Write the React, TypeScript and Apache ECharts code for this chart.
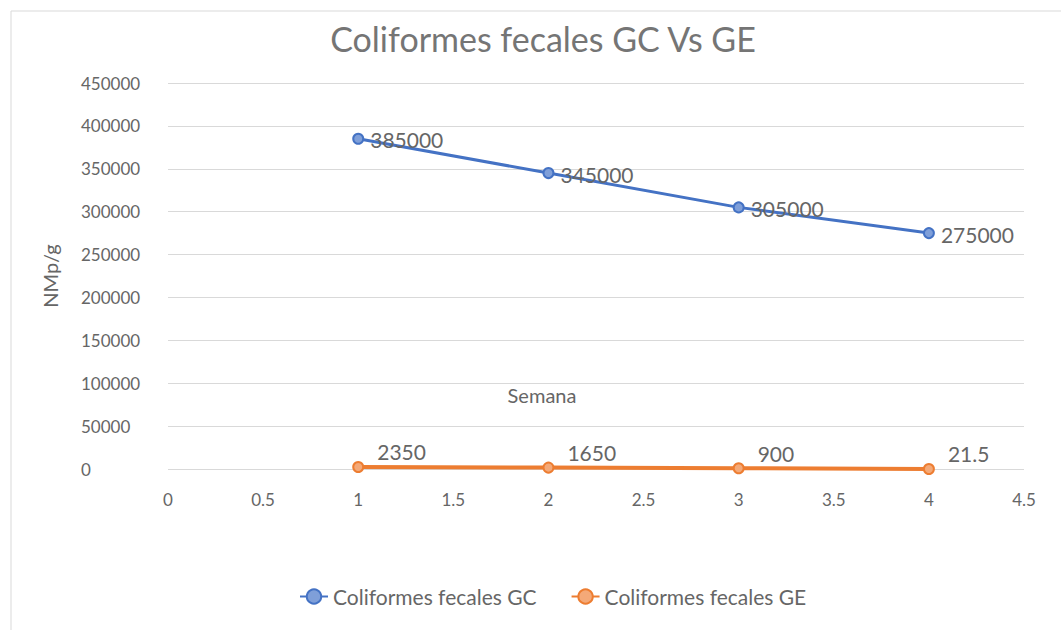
import React, { useEffect, useRef } from "react";
import * as echarts from "echarts";

const semanas = [1, 2, 3, 4];
const gcValues = [385000, 345000, 305000, 275000];
const geValues = [2350, 1650, 900, 21.5];
const seriesNames = ["Coliformes fecales GC", "Coliformes fecales GE"];
const titleText = "Coliformes fecales GC Vs GE";
const xAxisTitle = "Semana";
const yAxisTitle = "NMp/g";

const FONT = "Lato, 'Open Sans', sans-serif";
const TXT = "#666666";

export default function App() {
  const ref = useRef<HTMLDivElement>(null);
  useEffect(() => {
    if (!ref.current) return;
    const chart = echarts.init(ref.current, undefined, { renderer: "svg" });
    const mk = (vals: number[]) => semanas.map((s, i) => [s, vals[i]]);
    chart.setOption({
      animation: false,
      backgroundColor: "#ffffff",
      textStyle: { fontFamily: FONT },
      title: {
        text: titleText,
        left: 538,
        textAlign: "center",
        top: 16,
        textStyle: { fontFamily: FONT, fontSize: 34, fontWeight: "normal", color: "#757575" },
      },
      legend: {
        bottom: 18,
        left: 294,
        itemWidth: 28,
        itemHeight: 18,
        itemGap: 34,
        textStyle: { fontFamily: FONT, fontSize: 21, color: TXT },
        data: seriesNames,
      },
      grid: { left: 168, right: 37, top: 83, bottom: 161 },
      xAxis: {
        type: "value",
        min: 0,
        max: 4.5,
        interval: 0.5,
        axisLine: { show: false },
        axisTick: { show: false },
        splitLine: { show: false },
        axisLabel: { color: TXT, fontSize: 17, fontFamily: FONT, margin: 22 },
      },
      yAxis: {
        type: "value",
        min: 0,
        max: 450000,
        interval: 50000,
        name: yAxisTitle,
        nameLocation: "middle",
        nameGap: 108,
        nameRotate: 90,
        nameTextStyle: { color: TXT, fontSize: 20, fontFamily: FONT },
        axisLine: { show: false },
        axisTick: { show: false },
        splitLine: { lineStyle: { color: "#d9d9d9", width: 1 } },
        axisLabel: {
          color: TXT,
          fontSize: 17,
          fontFamily: FONT,
          align: "left",
          margin: 87,
          formatter: (v: number) => String(v),
        },
      },
      graphic: [
        {
          type: "rect",
          shape: { x: 11, y: 11, width: 1200, height: 800 },
          style: { fill: "none", stroke: "#d9d9d9", lineWidth: 1 },
          silent: true,
          z: -1,
        },
        {
          type: "text",
          x: 542,
          y: 395,
          style: {
            text: xAxisTitle,
            fill: TXT,
            font: `20px ${FONT}`,
            textAlign: "center",
            textVerticalAlign: "middle",
          },
        },
      ],
      series: [
        {
          name: seriesNames[0],
          type: "line",
          data: mk(gcValues),
          symbol: "circle",
          symbolSize: 10,
          color: "#4472C4",
          lineStyle: { color: "#4472C4", width: 3 },
          itemStyle: { color: "#7f9fd9", borderColor: "#4472C4", borderWidth: 2 },
          label: {
            show: true,
            position: "right",
            distance: 6,
            offset: [0, 1],
            color: TXT,
            fontSize: 21,
            fontFamily: FONT,
          },
          z: 3,
        },
        {
          name: seriesNames[1],
          type: "line",
          data: mk(geValues),
          symbol: "circle",
          symbolSize: 10,
          color: "#ED7D31",
          lineStyle: { color: "#ED7D31", width: 4 },
          itemStyle: { color: "#f4a978", borderColor: "#ED7D31", borderWidth: 2 },
          label: {
            show: true,
            position: "right",
            distance: 6,
            offset: [7, -15],
            color: TXT,
            fontSize: 21,
            fontFamily: FONT,
          },
          z: 3,
        },
      ],
    });
    return () => chart.dispose();
  }, []);
  return (
    <div
      ref={ref}
      style={{ position: "absolute", left: 0, top: 0, width: 1061, height: 630 }}
    />
  );
}
